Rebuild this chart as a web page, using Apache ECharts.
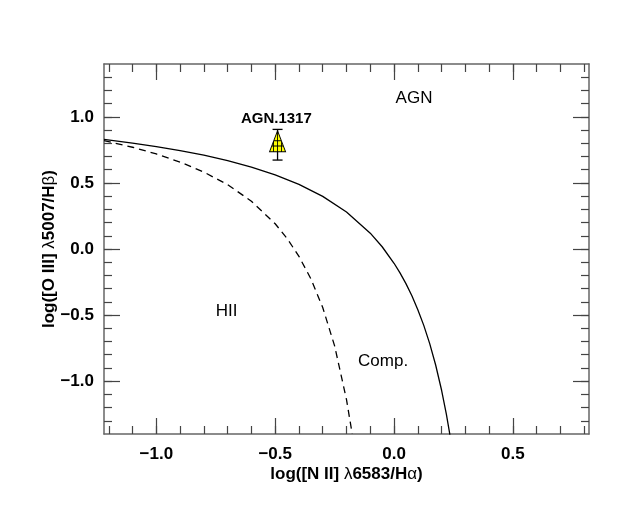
<!DOCTYPE html>
<html>
<head>
<meta charset="utf-8">
<script src="https://cdn.jsdelivr.net/npm/echarts@6/dist/echarts.min.js"></script>
<style>html,body{margin:0;padding:0;background:#fff;}#c{width:640px;height:512px;}</style>
</head>
<body>
<div id="c"></div>
<script>
// Kewley et al. (2001) maximum starburst line (solid)
const kewleyX = [-1.22, -1.1, -1.0, -0.9, -0.8, -0.7, -0.6, -0.5, -0.4, -0.3, -0.2, -0.1, -0.05, 0.0, 0.025, 0.05, 0.075, 0.1, 0.125, 0.15, 0.175, 0.2, 0.22, 0.235];
const kewleyY = [0.829, 0.801, 0.775, 0.745, 0.710, 0.669, 0.620, 0.561, 0.489, 0.398, 0.280, 0.120, 0.017, -0.108, -0.181, -0.262, -0.354, -0.459, -0.578, -0.716, -0.878, -1.069, -1.250, -1.406];
// Kauffmann et al. (2003) line (dashed)
const kauffX = [-1.22, -1.1, -1.0, -0.9, -0.8, -0.7, -0.6, -0.5, -0.45, -0.4, -0.35, -0.3, -0.25, -0.2, -0.176];
const kauffY = [0.820, 0.770, 0.719, 0.658, 0.582, 0.487, 0.362, 0.191, 0.080, -0.056, -0.225, -0.443, -0.733, -1.140, -1.399];
// Object
const objName = ['AGN.1317'];
const objX = [-0.490];
const objY = [0.789];
const objErr = [0.116];
// Region labels
const regionNames = ['AGN', 'HII', 'Comp.'];
const regionX = [0.084, -0.704, -0.046];
const regionY = [1.139, -0.474, -0.850];
// Ticks
const xMajor = [-1.0, -0.5, 0.0, 0.5];
const xMinor = [-1.2, -1.1, -1.0, -0.9, -0.8, -0.7, -0.6, -0.5, -0.4, -0.3, -0.2, -0.1, 0.0, 0.1, 0.2, 0.3, 0.4, 0.5, 0.6, 0.7, 0.8];
const yMajor = [-1.0, -0.5, 0.0, 0.5, 1.0];
const yMinor = [-1.3, -1.2, -1.1, -1.0, -0.9, -0.8, -0.7, -0.6, -0.5, -0.4, -0.3, -0.2, -0.1, 0.0, 0.1, 0.2, 0.3, 0.4, 0.5, 0.6, 0.7, 0.8, 0.9, 1.0, 1.1, 1.2, 1.3];
const xRange = [-1.22, 0.82];
const yRange = [-1.4, 1.4];

const FONT = 'Liberation Sans';
const frame = '#666';
const tickCol = '#444';
const fmt = v => (Math.abs(v) < 1e-9 ? 0 : v).toFixed(1).replace('-', '\u2212');

function mkAxis(kind, pos, vals, len, showLine, showLabel, extra) {
  const a = {
    type: 'value', position: pos, min: kind === 'x' ? xRange[0] : yRange[0], max: kind === 'x' ? xRange[1] : yRange[1],
    axisLine: { show: showLine, onZero: false, lineStyle: { color: frame, width: 1.5 } },
    axisTick: { show: true, inside: true, length: len, customValues: vals, lineStyle: { color: tickCol, width: 1.2 } },
    axisLabel: {
      show: showLabel, customValues: vals, formatter: fmt, fontFamily: FONT, fontWeight: 'bold', fontSize: 17, color: '#000',
      margin: kind === 'x' ? 12 : 10, padding: kind === 'x' ? 0 : [5, 0, 0, 0]
    },
    splitLine: { show: false }
  };
  return Object.assign(a, extra || {});
}

const rich = {
  b: { fontFamily: FONT, fontWeight: 'bold', fontSize: 17, color: '#000' },
  g: { fontFamily: FONT, fontWeight: 'normal', fontSize: 17, color: '#000' }
};

const chart = echarts.init(document.getElementById('c'), null, { renderer: 'canvas' });
chart.setOption({
  animation: false,
  backgroundColor: '#fff',
  grid: { left: 104, right: 51, top: 64, bottom: 78 },
  xAxis: [
    mkAxis('x', 'bottom', xMajor, 16, true, true, {
      name: '{b|log([N II] }{g|\u03bb}{b|6583/H}{g|\u03b1}{b|)}', nameLocation: 'middle', nameGap: 32,
      nameMoveOverlap: false,
      nameTextStyle: { rich: rich }
    }),
    mkAxis('x', 'bottom', xMinor, 8, false, false),
    mkAxis('x', 'top', xMajor, 16, true, false),
    mkAxis('x', 'top', xMinor, 8, false, false)
  ],
  yAxis: [
    mkAxis('y', 'left', yMajor, 16, true, true, {
      name: '{b|log([O III] }{g|\u03bb}{b|5007/H}{g|\u03b2}{b|)}', nameLocation: 'middle', nameGap: 46,
      nameMoveOverlap: false,
      nameTextStyle: { rich: rich }
    }),
    mkAxis('y', 'left', yMinor, 8, false, false),
    mkAxis('y', 'right', yMajor, 16, true, false),
    mkAxis('y', 'right', yMinor, 8, false, false)
  ],
  series: [
    {
      type: 'line', name: 'Kewley', data: kewleyX.map((x, i) => [x, kewleyY[i]]),
      showSymbol: false, symbol: 'none', clip: true,
      lineStyle: { color: '#000', width: 1.3 }
    },
    {
      type: 'line', name: 'Kauffmann', data: kauffX.map((x, i) => [x, kauffY[i]]),
      showSymbol: false, symbol: 'none', clip: true,
      lineStyle: { color: '#000', width: 1.3, type: [7, 5] }
    },
    {
      type: 'custom', name: 'err',
      data: objX.map((x, i) => [x, objY[i], objErr[i]]),
      renderItem: function (params, api) {
        const x = api.value(0), y = api.value(1), e = api.value(2);
        const lo = api.coord([x, y - e]);
        const hi = api.coord([x, y + e]);
        const w = 5;
        const st = { stroke: '#000', lineWidth: 1.3 };
        return {
          type: 'group', children: [
            { type: 'line', shape: { x1: lo[0], y1: lo[1], x2: hi[0], y2: hi[1] }, style: st },
            { type: 'line', shape: { x1: lo[0] - w, y1: lo[1], x2: lo[0] + w, y2: lo[1] }, style: st },
            { type: 'line', shape: { x1: hi[0] - w, y1: hi[1], x2: hi[0] + w, y2: hi[1] }, style: st }
          ]
        };
      },
      z: 3
    },
    {
      type: 'scatter', name: 'obj',
      data: objX.map((x, i) => [x, objY[i]]),
      symbol: 'path://M8,0L16,21L0,21Z M8,0L8,21 M4.2,10L11.8,10 M2.2,15.3L13.8,15.3 M4,10.5L4,21 M12,10.5L12,21',
      symbolSize: [16, 21], symbolOffset: [0, -3.5], symbolKeepAspect: false,
      itemStyle: { color: '#ffff00', borderColor: '#000', borderWidth: 1, opacity: 1 },
      z: 4
    },
    {
      type: 'scatter', name: 'objlabel',
      data: objX.map((x, i) => ({ value: [x - 0.005, objY[i] + 0.199], name: objName[i] })),
      symbolSize: 0, itemStyle: { opacity: 1 },
      label: { show: true, position: 'inside', formatter: '{b}', fontFamily: FONT, fontWeight: 'bold', fontSize: 15, color: '#000', opacity: 1 },
      silent: true, z: 5
    },
    {
      type: 'scatter', name: 'regions',
      data: regionX.map((x, i) => ({ value: [x, regionY[i]], name: regionNames[i] })),
      symbolSize: 0, itemStyle: { opacity: 1 },
      label: { show: true, position: 'inside', formatter: '{b}', fontFamily: FONT, fontWeight: 'normal', fontSize: 17, color: '#000', opacity: 1 },
      silent: true, z: 5
    }
  ]
});
</script>
</body>
</html>
